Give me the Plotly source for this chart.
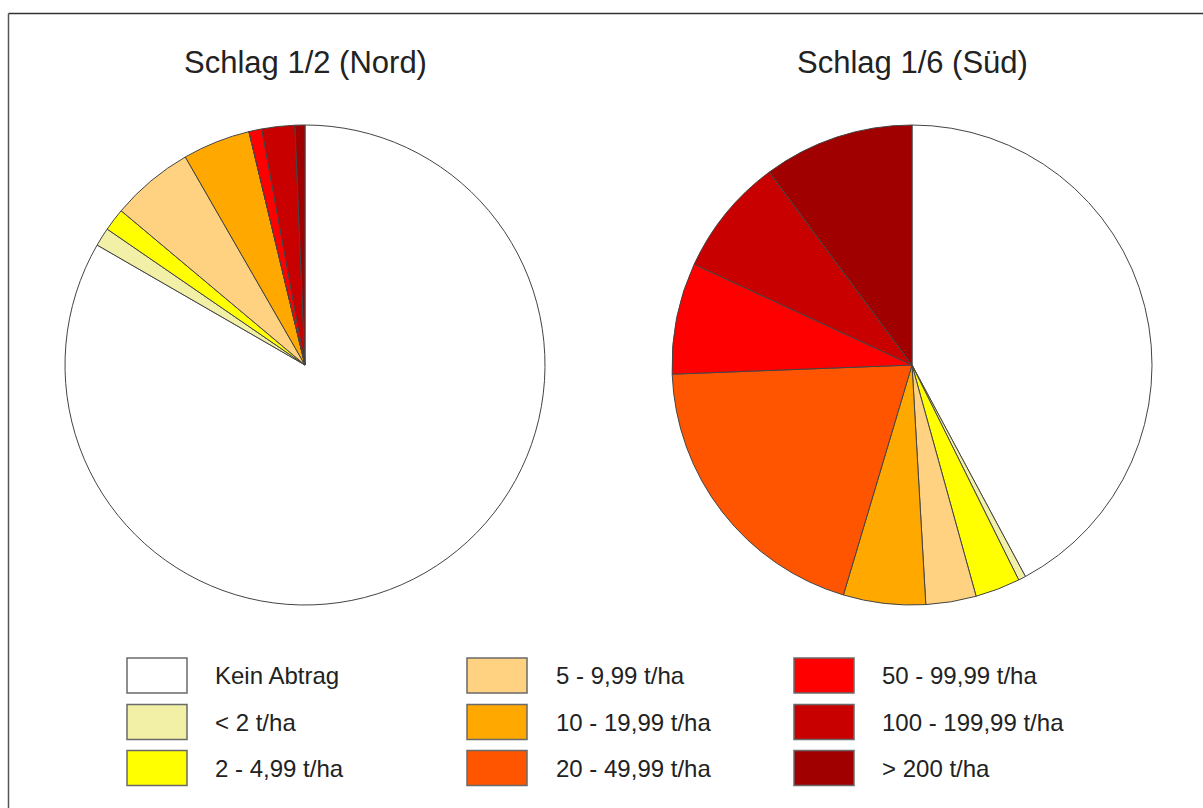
import plotly.graph_objects as go

# Erosion classes (t/ha) and their fill colours
classes = [
    "Kein Abtrag", "< 2 t/ha", "2 - 4,99 t/ha",
    "5 - 9,99 t/ha", "10 - 19,99 t/ha", "20 - 49,99 t/ha",
    "50 - 99,99 t/ha", "100 - 199,99 t/ha", "> 200 t/ha",
]
colors = [
    "#FFFFFF", "#F2F0A6", "#FFFF00",
    "#FFD281", "#FFA800", "#FF5500",
    "#FF0000", "#C80000", "#A00000",
]

# Area share per class (%)
nord_values = [83.33, 1.25, 1.53, 5.58, 4.56, 0.0, 0.86, 2.22, 0.67]
sued_values = [42.17, 0.50, 3.03, 3.39, 5.53, 19.78, 7.50, 7.97, 10.14]

titles = ["Schlag 1/2 (Nord)", "Schlag 1/6 (Süd)"]

W, H = 1203, 808
FONT = "Liberation Sans, Arial, sans-serif"


def px_x(x):
    return x / W


def px_y(y):
    return 1 - y / H


fig = go.Figure()

pie_centers = [(305, 365), (912, 365)]
radius = 240
for vals, (cx, cy) in zip([nord_values, sued_values], pie_centers):
    fig.add_trace(go.Pie(
        labels=classes,
        values=vals,
        sort=False,
        direction="clockwise",
        rotation=0,
        marker=dict(colors=colors, line=dict(color="#444444", width=1)),
        textinfo="none",
        hoverinfo="label+percent",
        showlegend=False,
        domain=dict(
            x=[px_x(cx - radius), px_x(cx + radius)],
            y=[px_y(cy + radius), px_y(cy - radius)],
        ),
    ))

annotations = []
for title, (cx, cy) in zip(titles, pie_centers):
    annotations.append(dict(
        text=title, x=px_x(cx), y=px_y(63), xref="paper", yref="paper",
        xanchor="center", yanchor="middle", showarrow=False,
        font=dict(family=FONT, size=31, color="#222222"),
    ))

# Legend: three columns of three entries
shapes = []
col_box_x = [127, 467, 794]
col_text_x = [213, 554, 880]
row_y = [675.5, 722, 768]
box_w, box_h = 60, 35
for i, (label, color) in enumerate(zip(classes, colors)):
    col, row = divmod(i, 3)
    bx, by = col_box_x[col], row_y[row]
    shapes.append(dict(
        type="rect", xref="paper", yref="paper",
        x0=px_x(bx), x1=px_x(bx + box_w),
        y0=px_y(by + box_h / 2), y1=px_y(by - box_h / 2),
        fillcolor=color, line=dict(color="#6a6a6a", width=1.5),
    ))
    annotations.append(dict(
        text=label, x=px_x(col_text_x[col]), y=px_y(by),
        xref="paper", yref="paper", xanchor="left", yanchor="middle",
        showarrow=False, font=dict(family=FONT, size=24, color="#222222"),
    ))

# Frame lines (top and left)
shapes.append(dict(type="line", xref="paper", yref="paper",
                   x0=px_x(8.5), x1=1.0, y0=px_y(13.5), y1=px_y(13.5),
                   line=dict(color="#333333", width=1.5)))
shapes.append(dict(type="line", xref="paper", yref="paper",
                   x0=px_x(8.5), x1=px_x(8.5), y0=px_y(13.5), y1=0.0,
                   line=dict(color="#555555", width=1.5)))

fig.update_layout(
    width=W, height=H,
    margin=dict(l=0, r=0, t=0, b=0),
    paper_bgcolor="white",
    plot_bgcolor="white",
    shapes=shapes,
    annotations=annotations,
)

fig.write_html("out.html")
